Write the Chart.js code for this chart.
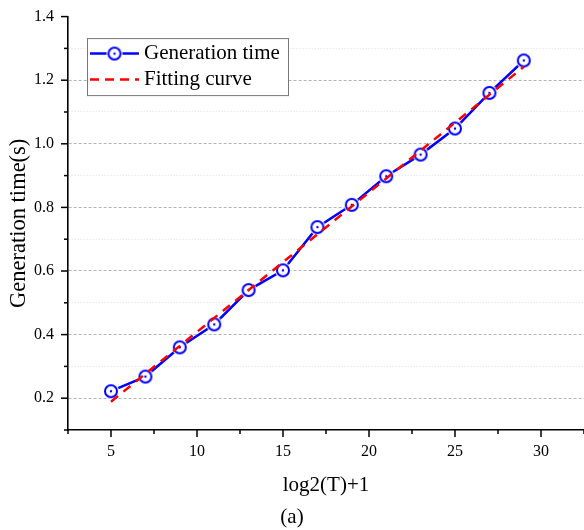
<!DOCTYPE html>
<html>
<head>
<meta charset="utf-8">
<script src="https://cdn.jsdelivr.net/npm/chart.js@4"></script>
<style>
  html, body { margin: 0; padding: 0; background: #fff; }
  #wrap { width: 584px; height: 530px; }
</style>
</head>
<body>
<div id="wrap"><canvas id="chart" width="584" height="530"></canvas></div>
<script>
// values
const xValues = [5, 7, 9, 11, 13, 15, 17, 19, 21, 23, 25, 27, 29];
const genTime = [0.222, 0.268, 0.360, 0.432, 0.540, 0.602, 0.738, 0.808, 0.898, 0.966, 1.048, 1.160, 1.262];
const fitX = [5, 29];
const fitY = [0.189, 1.242];

// axis ticks
const xMajor = [5, 10, 15, 20, 25, 30];
const xMinor = [2.5, 7.5, 12.5, 17.5, 22.5, 27.5, 32.5];
const yMajor = [0.2, 0.4, 0.6, 0.8, 1.0, 1.2, 1.4];
const yMinor = [0.1, 0.3, 0.5, 0.7, 0.9, 1.1, 1.3];

const serif = '"Liberation Serif", "Times New Roman", serif';
const BLUE = '#0000ff';
const RED = '#ff0000';

function isMajor(list, v) {
  return list.some(m => Math.abs(m - v) < 1e-6);
}

// hollow circle with a dot in the middle, white halo so the line stops short
function makeMarker() {
  const c = document.createElement('canvas');
  c.width = 18; c.height = 18;
  const g = c.getContext('2d');
  g.beginPath();
  g.arc(9, 9, 8, 0, Math.PI * 2);
  g.fillStyle = '#fff';
  g.fill();
  g.beginPath();
  g.arc(9, 9, 6, 0, Math.PI * 2);
  g.lineWidth = 2;
  g.strokeStyle = BLUE;
  g.stroke();
  g.beginPath();
  g.arc(9, 9, 1.2, 0, Math.PI * 2);
  g.fillStyle = BLUE;
  g.fill();
  return c;
}
const marker = makeMarker();

function setTicks(major, minor) {
  return function (scale) {
    scale.ticks = major.concat(minor).sort((a, b) => a - b).map(v => ({ value: v }));
  };
}

// tick marks: long for major, short for minor
const tickMarks = {
  id: 'tickMarks',
  afterDraw(chart) {
    const ctx = chart.ctx;
    const xs = chart.scales.x, ys = chart.scales.y;
    ctx.save();
    ctx.strokeStyle = '#000';
    ctx.lineWidth = 1.5;
    xs.ticks.forEach(t => {
      const px = xs.getPixelForValue(t.value);
      const len = isMajor(xMajor, t.value) ? 7 : 4;
      ctx.beginPath();
      ctx.moveTo(px, xs.top);
      ctx.lineTo(px, xs.top + len);
      ctx.stroke();
    });
    ys.ticks.forEach(t => {
      const py = ys.getPixelForValue(t.value);
      const len = isMajor(yMajor, t.value) ? 7 : 4;
      ctx.beginPath();
      ctx.moveTo(ys.right - len, py);
      ctx.lineTo(ys.right, py);
      ctx.stroke();
    });
    ctx.restore();
  }
};

// boxed legend inside the plot, top left
const boxLegend = {
  id: 'boxLegend',
  afterDraw(chart) {
    const ctx = chart.ctx;
    const a = chart.chartArea;
    const bx = a.left + 19, by = a.top + 21.5, bw = 201, bh = 57;
    ctx.save();
    ctx.fillStyle = '#fff';
    ctx.fillRect(bx, by, bw, bh);
    ctx.strokeStyle = '#777';
    ctx.lineWidth = 1;
    ctx.strokeRect(bx + 0.5, by + 0.5, bw, bh);

    const x0 = bx + 3, x1 = bx + 52;
    const row1 = by + 15.5, row2 = by + 41.5;
    ctx.lineWidth = 2.5;
    ctx.strokeStyle = BLUE;
    ctx.beginPath(); ctx.moveTo(x0, row1); ctx.lineTo(x1, row1); ctx.stroke();
    ctx.drawImage(marker, (x0 + x1) / 2 - 9, row1 - 9);

    ctx.strokeStyle = RED;
    ctx.lineWidth = 2.5;
    ctx.setLineDash([9, 6]);
    ctx.beginPath(); ctx.moveTo(x0, row2); ctx.lineTo(x1, row2); ctx.stroke();
    ctx.setLineDash([]);

    ctx.fillStyle = '#000';
    ctx.font = '21px ' + serif;
    ctx.textBaseline = 'middle';
    ctx.fillText(chart.data.datasets[0].label, x1 + 5, row1);
    ctx.fillText(chart.data.datasets[1].label, x1 + 5, row2);
    ctx.restore();
  }
};

const ctx = document.getElementById('chart').getContext('2d');
new Chart(ctx, {
  type: 'line',
  data: {
    datasets: [{
      label: 'Generation time',
      data: xValues.map((x, i) => ({ x: x, y: genTime[i] })),
      borderColor: BLUE,
      borderWidth: 2.5,
      pointStyle: marker,
      pointRadius: 8,
      tension: 0,
      order: 1
    }, {
      label: 'Fitting curve',
      data: fitX.map((x, i) => ({ x: x, y: fitY[i] })),
      borderColor: RED,
      borderWidth: 2.5,
      borderDash: [9, 7],
      pointRadius: 0,
      tension: 0,
      order: 0
    }]
  },
  options: {
    responsive: false,
    animation: false,
    events: [],
    layout: { autoPadding: false, padding: { top: 14, right: 0, left: 0, bottom: 0 } },
    plugins: {
      legend: { display: false },
      tooltip: { enabled: false },
      subtitle: {
        display: true,
        position: 'bottom',
        text: '(a)',
        color: '#000',
        font: { family: serif, size: 21, weight: 'normal' },
        padding: { top: 0, bottom: 0 }
      }
    },
    scales: {
      x: {
        type: 'linear',
        min: 2.5,
        max: 32.5,
        afterBuildTicks: setTicks(xMajor, xMinor),
        afterFit: s => { s.height = 74.8; s.paddingLeft = 0; s.paddingRight = 0; },
        grid: { drawOnChartArea: false, drawTicks: true, tickLength: 7, tickColor: 'rgba(0,0,0,0)' },
        border: { color: '#000', width: 1.6 },
        ticks: {
          autoSkip: false,
          maxRotation: 0,
          padding: 5,
          color: '#000',
          font: { family: serif, size: 16 },
          callback: v => isMajor(xMajor, v) ? String(v) : ''
        },
        title: {
          display: true,
          text: 'log2(T)+1',
          color: '#000',
          font: { family: serif, size: 21 },
          padding: { top: 0, bottom: 7 }
        }
      },
      y: {
        type: 'linear',
        min: 0.1,
        max: 1.4,
        afterBuildTicks: setTicks(yMajor, yMinor),
        afterFit: s => { s.width = 68; },
        grid: {
          drawTicks: true,
          tickLength: 7,
          tickColor: 'rgba(0,0,0,0)',
          lineWidth: 1,
          color: c => {
            const v = c.tick ? c.tick.value : null;
            if (v === null || Math.abs(v - 0.1) < 1e-6 || Math.abs(v - 1.4) < 1e-6) return 'rgba(0,0,0,0)';
            return isMajor(yMajor, v) ? '#b4b4b4' : '#dedede';
          }
        },
        border: {
          color: '#000',
          width: 1.6,
          dash: c => {
            if (!c.tick) return [];
            return isMajor(yMajor, c.tick.value) ? [3, 2] : [1, 2];
          }
        },
        ticks: {
          autoSkip: false,
          padding: 7,
          color: '#000',
          font: { family: serif, size: 16 },
          callback: v => isMajor(yMajor, v) ? v.toFixed(1) : ''
        },
        title: {
          display: true,
          text: 'Generation time(s)',
          color: '#000',
          font: { family: serif, size: 22.5 },
          padding: { top: 6, bottom: 0 }
        }
      }
    }
  },
  plugins: [tickMarks, boxLegend]
});
</script>
</body>
</html>
